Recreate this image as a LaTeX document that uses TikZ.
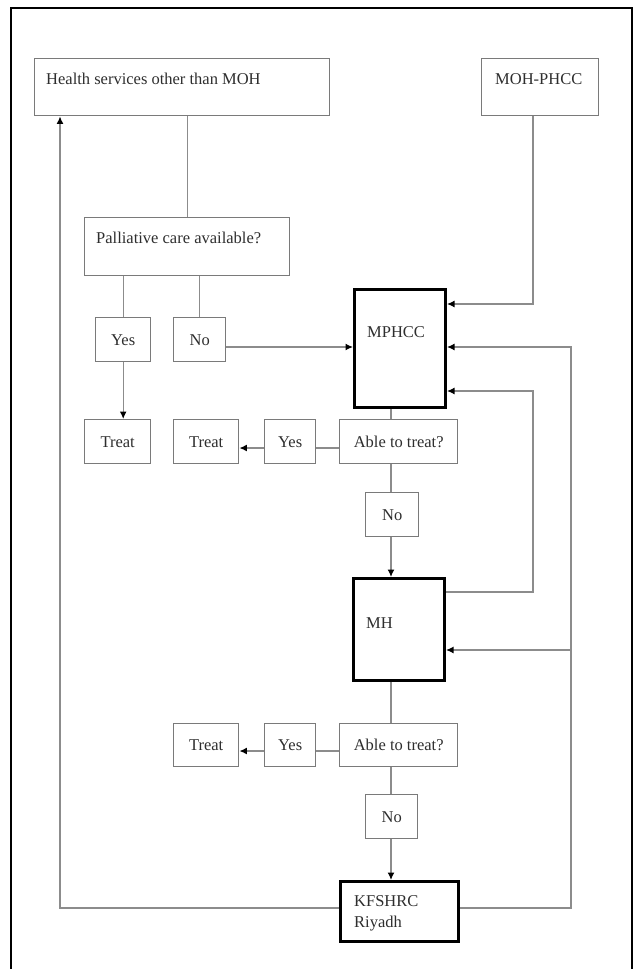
\documentclass[tikz,border=0pt]{standalone}
\usepackage{fontspec}
\setmainfont{Liberation Serif}
\usetikzlibrary{arrows.meta}
\definecolor{lngray}{HTML}{8C8C8C}
\definecolor{bxgray}{HTML}{7A7A7A}
\definecolor{txgray}{HTML}{2E2E2E}
\begin{document}
\begin{tikzpicture}[x=1pt,y=-1pt,
  every node/.style={font=\fontsize{16.5}{19}\selectfont, text=txgray},
  thinbox/.style={draw=bxgray, line width=1.4pt, fill=white, anchor=north west, inner sep=0pt},
  thickbox/.style={draw=black, line width=3pt, fill=white, anchor=north west, inner sep=0pt},
  lbl/.style={anchor=west, inner sep=0pt},
  ln/.style={draw=lngray, line width=1.4pt},
  arr/.style={draw=lngray, line width=1.4pt, -{Latex[length=7.5pt,width=7pt,black]}}]
\clip (0,0) rectangle (635,969);
\fill[white] (0,0) rectangle (635,969);
\draw[black, line width=2.5pt] (11,8) rectangle (632,990);

% boxes
\node[thinbox, minimum width=295pt, minimum height=57pt] (hs) at (34,58) {};
\node[lbl] (hst) at (46,79) {Health services other than MOH};
\node[thinbox, minimum width=117pt, minimum height=57pt] (moh) at (481,58) {};
\node[lbl] (moht) at (495,79) {MOH-PHCC};
\node[thinbox, minimum width=205pt, minimum height=58pt] (pal) at (84,217) {};
\node[lbl] (palt) at (96,238) {Palliative care available?};
\node[thinbox, minimum width=55pt, minimum height=44pt] (yes1) at (95,317) {Yes};
\node[thinbox, minimum width=52pt, minimum height=44pt] (no1) at (173,317) {No};
\node[thickbox, minimum width=91pt, minimum height=118pt] (mphcc) at (353,288) {};
\node[lbl] (mphcct) at (367,332) {MPHCC};
\node[thinbox, minimum width=66pt, minimum height=44pt] (treat1) at (84,419) {Treat};
\node[thinbox, minimum width=65pt, minimum height=44pt] (treat2) at (173,419) {Treat};
\node[thinbox, minimum width=51pt, minimum height=44pt] (yes2) at (264,419) {Yes};
\node[thinbox, minimum width=118pt, minimum height=44pt] (able1) at (339,419) {Able to treat?};
\node[thinbox, minimum width=53pt, minimum height=44pt] (no2) at (365,492) {No};
\node[thickbox, minimum width=91pt, minimum height=102pt] (mh) at (352,577) {};
\node[lbl] (mht) at (366,623) {MH};
\node[thinbox, minimum width=118pt, minimum height=43pt] (able2) at (339,723) {Able to treat?};
\node[thinbox, minimum width=51pt, minimum height=43pt] (yes3) at (264,723) {Yes};
\node[thinbox, minimum width=65pt, minimum height=43pt] (treat3) at (173,723) {Treat};
\node[thinbox, minimum width=52pt, minimum height=44pt] (no3) at (365,794) {No};
\node[thickbox, minimum width=118pt, minimum height=60pt] (kf) at (339,880) {};
\node[lbl, align=left, anchor=north west, font=\fontsize{16.5}{21}\selectfont] (kft) at (354,895) {KFSHRC\\Riyadh};

% turning points
\coordinate (m1) at (533,304);
\coordinate (m2) at (571,347);
\coordinate (m3) at (533,391);
\coordinate (h1) at (533,592);
\coordinate (h2) at (571,650);
\coordinate (k1) at (571,908);
\coordinate (k2) at (60,908);
\coordinate (vx) at (391,0);
\coordinate (a1) at (0,448);
\coordinate (a2) at (0,751);

% connectors
\draw[ln] (hs.south -| pal.north) -- (pal.north);
\draw[ln] (pal.south -| yes1.north) -- (yes1.north);
\draw[ln] (pal.south -| no1.north) -- (no1.north);
\draw[arr] (yes1.south) -- (treat1.north -| yes1.south);
\draw[arr] (no1.east |- m2) -- (mphcc.west |- m2);
\draw[arr] (moh.south -| m1) -- (m1) -- (mphcc.east |- m1);
\draw[arr] (mh.east |- h1) -- (h1) -- (m3) -- (mphcc.east |- m3);
\draw[arr] (kf.east |- k1) -- (k1) -- (m2) -- (mphcc.east |- m2);
\draw[arr] (h2) -- (mh.east |- h2);
\draw[arr] (kf.west |- k2) -- (k2) -- (k2 |- hs.south);
\draw[ln] (mphcc.south -| vx) -- (able1.north -| vx);
\draw[ln] (able1.west |- a1) -- (yes2.east |- a1);
\draw[arr] (yes2.west |- a1) -- (treat2.east |- a1);
\draw[ln] (able1.south -| vx) -- (no2.north -| vx);
\draw[arr] (no2.south -| vx) -- (mh.north -| vx);
\draw[ln] (mh.south -| vx) -- (able2.north -| vx);
\draw[ln] (able2.west |- a2) -- (yes3.east |- a2);
\draw[arr] (yes3.west |- a2) -- (treat3.east |- a2);
\draw[ln] (able2.south -| vx) -- (no3.north -| vx);
\draw[arr] (no3.south -| vx) -- (kf.north -| vx);
\end{tikzpicture}
\end{document}
